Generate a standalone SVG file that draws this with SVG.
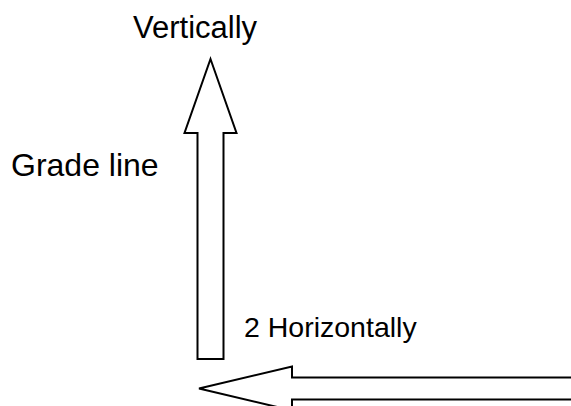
<svg xmlns="http://www.w3.org/2000/svg" width="571" height="406" viewBox="0 0 571 406">
<style>
.lbl{font-family:"Liberation Sans",Arial,sans-serif;fill:#000}
.big{font-size:31px}
.mid{font-size:28.5px}
.arrow{fill:#fff;stroke:#000;stroke-width:2;stroke-linejoin:miter}
</style>
<rect width="571" height="406" fill="#fff"/>
<g id="connectors">
<path id="vertical-arrow" class="arrow" d="M210.5,59 L236.5,133 L223.5,133 L223.5,359 L197.5,359 L197.5,133 L184.5,133 Z"/>
<path id="horizontal-arrow" class="arrow" d="M199,388.5 L292,366.5 L292,377.5 L575,377.5 L575,399.5 L292,399.5 L292,410.5 Z"/>
</g>
<g id="label-vertically"><text class="lbl big" x="133" y="38">Vertically</text></g>
<g id="label-grade-line"><text class="lbl big" x="11" y="176" style="font-size:32px">Grade line</text></g>
<g id="label-horizontally"><text class="lbl mid" x="244" y="337">2 Horizontally</text></g>
</svg>
